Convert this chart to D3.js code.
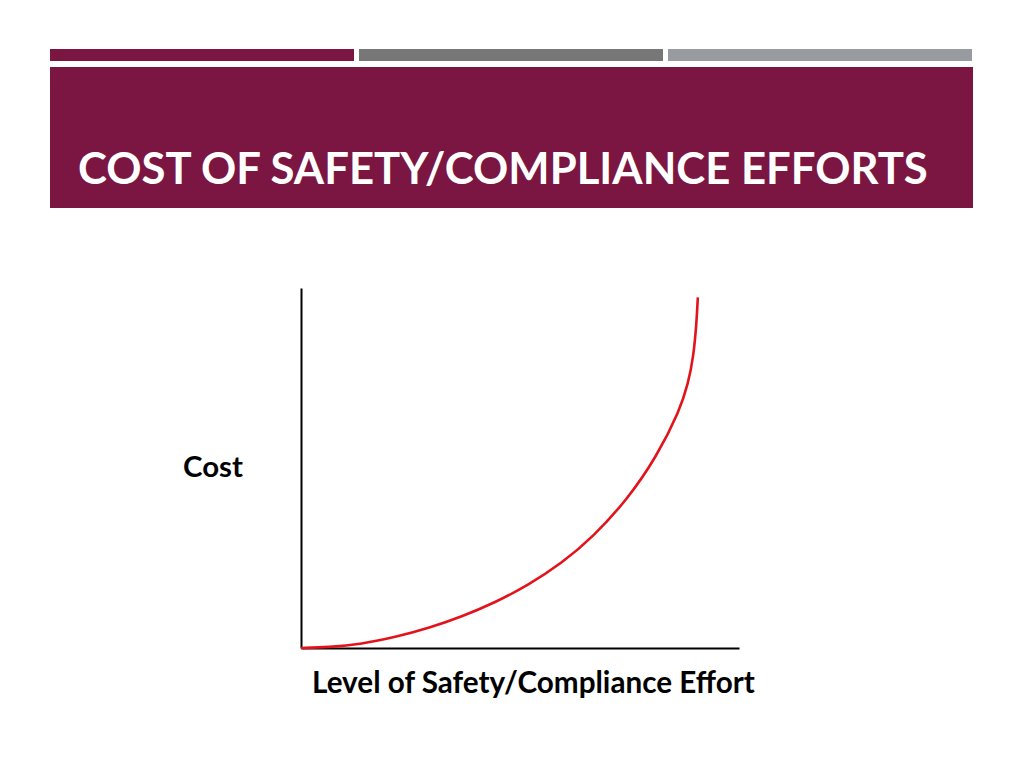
<!DOCTYPE html>
<html><head><meta charset="utf-8">
<script src="https://cdn.jsdelivr.net/npm/d3@7"></script>
<style>html,body{margin:0;padding:0;background:#fff;}svg{display:block;}</style>
</head><body>
<script>
const title = "COST OF SAFETY/COMPLIANCE EFFORTS";
const xLabel = "Level of Safety/Compliance Effort";
const yLabel = "Cost";
const effort = [0, 6.2, 13.9, 21.5, 29.1, 36.7, 44.3, 51.9, 59.5, 66.7, 74.4, 81.2, 86.5, 88.4, 89.6, 90.3, 90.6];
const cost   = [0, 0.2, 1.1, 3.0, 5.5, 8.7, 12.6, 17.5, 23.5, 30.9, 41.1, 53.1, 66.1, 73.5, 80.9, 90.2, 97.4];
const topBarColors = ["#7b1541", "#777777", "#989ca1"];

const W = 1024, H = 768;
const svg = d3.select("body").append("svg").attr("width", W).attr("height", H);
svg.append("rect").attr("width", W).attr("height", H).attr("fill", "#fff");

// top decorative bars
const barX = d3.scaleBand().domain(d3.range(3)).range([50, 972]).paddingInner(0.0162);
svg.selectAll("rect.topbar").data(topBarColors).join("rect")
  .attr("class", "topbar")
  .attr("x", (d, i) => barX(i)).attr("y", 49)
  .attr("width", barX.bandwidth()).attr("height", 12)
  .attr("fill", d => d);

// title band
svg.append("rect").attr("x", 50).attr("y", 67).attr("width", 923).attr("height", 141).attr("fill", "#7b1541");

function fitText(sel, targetW) {
  const w = sel.node().getComputedTextLength();
  const fs = parseFloat(sel.attr("font-size"));
  sel.attr("font-size", fs * targetW / w);
}

const t = svg.append("text").attr("x", 78).attr("y", 184)
  .attr("font-family", "Lato, 'Open Sans', sans-serif").attr("font-weight", "bold")
  .attr("font-size", 31).attr("fill", "#fff").text(title);
fitText(t, 850);

// chart
const x = d3.scaleLinear().domain([0, 100]).range([301, 739]);
const y = d3.scaleLinear().domain([0, 100]).range([648, 288]);

const xAxis = svg.append("g").attr("transform", `translate(0,${y(0)})`)
  .call(d3.axisBottom(x).ticks(0).tickSize(0).tickSizeOuter(0));
xAxis.select(".domain").attr("stroke", "#000").attr("stroke-width", 2);
const yAxis = svg.append("g").attr("transform", `translate(${x(0)},0)`)
  .call(d3.axisLeft(y).ticks(0).tickSize(0).tickSizeOuter(0));
yAxis.select(".domain").attr("stroke", "#000").attr("stroke-width", 2);

const pts = effort.map((e, i) => [e, cost[i]]);
const line = d3.line().x(d => x(d[0])).y(d => y(d[1])).curve(d3.curveBasis);
svg.append("path").datum(pts).attr("d", line)
  .attr("fill", "none").attr("stroke", "#e3131b").attr("stroke-width", 2.6);

const xl = svg.append("text").attr("x", 312).attr("y", 693)
  .attr("font-family", "Lato, 'Open Sans', sans-serif").attr("font-weight", "bold")
  .attr("font-size", 24).attr("fill", "#000").text(xLabel);
fitText(xl, 443);
const yl = svg.append("text").attr("x", 183).attr("y", 477)
  .attr("font-family", "Lato, 'Open Sans', sans-serif").attr("font-weight", "bold")
  .attr("font-size", 24).attr("fill", "#000").text(yLabel);
fitText(yl, 60);
</script>
</body></html>
